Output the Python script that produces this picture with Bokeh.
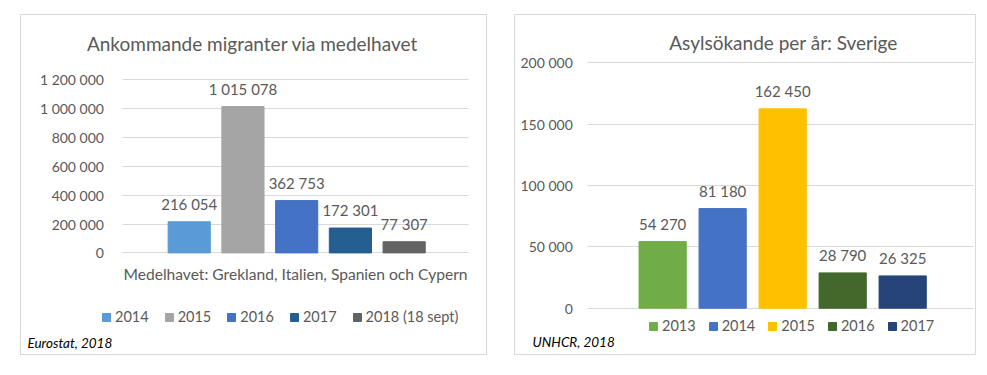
from bokeh.plotting import figure
from bokeh.models import (Range1d, FixedTicker, ColumnDataSource, LabelSet,
                          Label, Legend, LegendItem, Spacer)
from bokeh.layouts import row, column
from bokeh.embed import file_html
from bokeh.resources import INLINE
from bokeh.core.properties import value

FONT = "Lato"
TXT = "#595959"
GRID = "#D9D9D9"

# ---------------- data: left chart ----------------
left_title = "Ankommande migranter via medelhavet"
left_category = "Medelhavet: Grekland, Italien, Spanien och Cypern"
left_years = ["2014", "2015", "2016", "2017", "2018 (18 sept)"]
left_values = [216054, 1015078, 362753, 172301, 77307]
left_value_labels = ["216 054", "1 015 078", "362 753", "172 301", "77 307"]
left_colors = ["#5B9BD5", "#A5A5A5", "#4472C4", "#255E91", "#636363"]
left_ticks = [0, 200000, 400000, 600000, 800000, 1000000, 1200000]
left_tick_labels = ["0", "200 000", "400 000", "600 000", "800 000", "1 000 000", "1 200 000"]
left_note = "Eurostat, 2018"

# ---------------- data: right chart ----------------
right_title = "Asylsökande per år: Sverige"
right_years = ["2013", "2014", "2015", "2016", "2017"]
right_values = [54270, 81180, 162450, 28790, 26325]
right_value_labels = ["54 270", "81 180", "162 450", "28 790", "26 325"]
right_colors = ["#70AD47", "#4472C4", "#FFC000", "#43682B", "#264478"]
right_ticks = [0, 50000, 100000, 150000, 200000]
right_tick_labels = ["0", "50 000", "100 000", "150 000", "200 000"]
right_note = "UNHCR, 2018"

# ---------------- layout geometry (page pixels) ----------------
LEFT_GEOM = dict(px=20, py=14, w=467, h=341, y0=251, ytop=79, bx0=188, bstep=53.5,
                 bar_w=42, axis_x=122, grid_len=346, standoff=19,
                 title=(252, 41), category=(295, 271), legend=(101, 315), note=(27, 340),
                 legend_spacing=15)
RIGHT_GEOM = dict(px=514, py=14, w=462, h=341, y0=306, ytop=62, bx0=661.5, bstep=59.75,
                  bar_w=47, axis_x=587, grid_len=386, standoff=15,
                  title=(783, 40), category=None, legend=(648, 324), note=(532, 339),
                  legend_spacing=12)


def make_panel(years, values, labels, colors, ticks, tick_labels, title, note, g,
               category=None):
    fl = g["px"] + 1                    # frame left (page px)
    fr = g["px"] + g["w"] - 1           # frame right
    ft = g["py"] + 1                    # frame top
    fb = g["py"] + g["h"] - 1           # frame bottom
    ymax = ticks[-1]
    ppu = (g["y0"] - g["ytop"]) / ymax  # pixels per unit
    y_start = -(fb - g["y0"]) / ppu
    y_end = (g["y0"] - ft) / ppu
    x_start = (fl - g["bx0"]) / g["bstep"]
    x_end = (fr - g["bx0"]) / g["bstep"]

    def sx(x):
        return x - fl

    def sy(y):
        return fb - y

    src = ColumnDataSource(dict(x=list(range(len(years))), year=years, value=values,
                                label=labels, color=colors))
    p = figure(width=g["w"], height=g["h"],
               x_range=Range1d(x_start, x_end), y_range=Range1d(y_start, y_end),
               x_axis_location=None, min_border=0,
               output_backend="svg", toolbar_location=None,
               styles={"border": "1px solid #D9D9D9"})
    p.outline_line_color = None
    p.background_fill_color = "white"
    p.border_fill_color = "white"
    p.xgrid.visible = False
    p.ygrid.visible = False

    r = p.vbar(x="x", top="value", width=g["bar_w"] / g["bstep"], fill_color="color",
               line_color="color", source=src)

    # y axis drawn at the left edge of the plotting area; its ticks form the gridlines
    yax = p.yaxis[0]
    yax.fixed_location = (g["axis_x"] - g["bx0"]) / g["bstep"]
    yax.level = "underlay"
    yax.ticker = FixedTicker(ticks=ticks)
    yax.major_label_overrides = {t: s for t, s in zip(ticks, tick_labels)}
    yax.axis_line_color = None
    yax.major_tick_in = g["grid_len"]
    yax.major_tick_out = 0
    yax.major_tick_line_color = GRID
    yax.major_tick_line_width = 1
    yax.minor_tick_line_color = None
    yax.major_label_standoff = g["standoff"]
    yax.major_label_text_font = FONT
    yax.major_label_text_font_size = "14px"
    yax.major_label_text_color = TXT

    # data labels
    p.add_layout(LabelSet(x="x", y="value", text="label", source=src,
                          text_align="center", text_baseline="alphabetic", y_offset=12,
                          text_font=value(FONT), text_font_size=value("15px"),
                          text_color=value(TXT)))

    tx, ty = g["title"]
    p.add_layout(Label(x=sx(tx), y=sy(ty), x_units="screen", y_units="screen",
                       text=title, text_align="center", text_baseline="middle",
                       text_font=FONT, text_font_size="19px", text_color=TXT))
    if category:
        cx, cy = g["category"]
        p.add_layout(Label(x=sx(cx), y=sy(cy), x_units="screen", y_units="screen",
                           text=category, text_align="center", text_baseline="middle",
                           text_font=FONT, text_font_size="15.6px", text_color=TXT))
    nx, ny = g["note"]
    p.add_layout(Label(x=sx(nx), y=sy(ny), x_units="screen", y_units="screen",
                       text=note, text_align="left", text_baseline="middle",
                       text_font=FONT, text_font_size="13.5px", text_font_style="italic",
                       text_color="#000000"))

    lx, ly = g["legend"]
    items = [LegendItem(label=y, renderers=[r], index=i) for i, y in enumerate(years)]
    leg = Legend(items=items, location=(sx(lx), sy(ly) - 8), orientation="horizontal",
                 glyph_width=10, glyph_height=10, label_standoff=4,
                 spacing=g["legend_spacing"], label_height=16, padding=0, margin=0,
                 border_line_color=None, background_fill_alpha=0, label_text_font=FONT,
                 label_text_font_size="14.5px", label_text_color=TXT)
    p.add_layout(leg)
    return p


p1 = make_panel(left_years, left_values, left_value_labels, left_colors, left_ticks,
                left_tick_labels, left_title, left_note, LEFT_GEOM, category=left_category)
p2 = make_panel(right_years, right_values, right_value_labels, right_colors, right_ticks,
                right_tick_labels, right_title, right_note, RIGHT_GEOM)

layout = column(Spacer(height=14), row(Spacer(width=20), p1, Spacer(width=27), p2))
open("out.html", "w").write(file_html(layout, INLINE))
